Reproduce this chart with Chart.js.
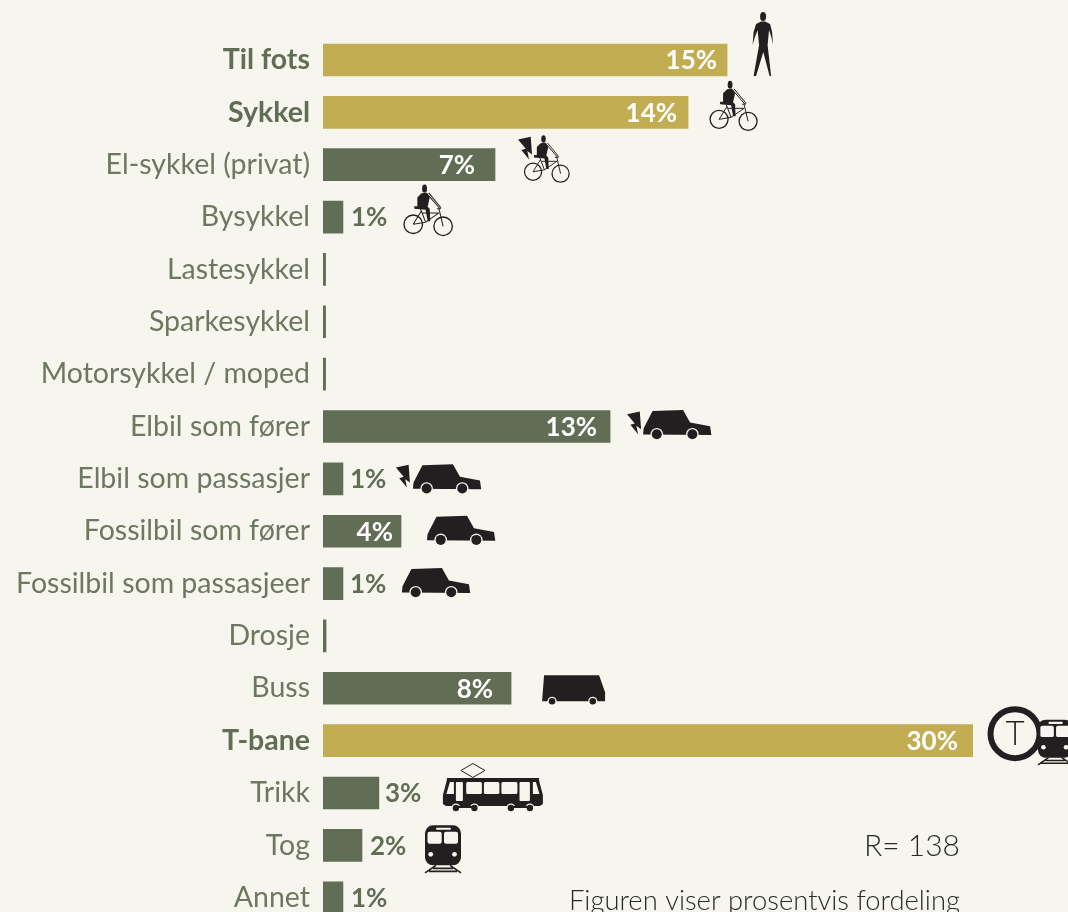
<!DOCTYPE html>
<html>
<head>
<meta charset="utf-8">
<style>
  html, body { margin: 0; padding: 0; background: #F6F6EE; height: 912px; overflow: hidden; }
  canvas { display: block; }
</style>
<script src="https://cdn.jsdelivr.net/npm/chart.js@4"></script>
</head>
<body>
<canvas id="myChart" width="1068" height="954"></canvas>
<script>
const categories = ["Til fots", "Sykkel", "El-sykkel (privat)", "Bysykkel", "Lastesykkel", "Sparkesykkel",
  "Motorsykkel / moped", "Elbil som fører", "Elbil som passasjer", "Fossilbil som fører",
  "Fossilbil som passasjeer", "Drosje", "Buss", "T-bane", "Trikk", "Tog", "Annet"];

// the printed percentages, no label on the empty rows
const percentages = [15, 14, 7, 1, null, null, null, 13, 1, 4, 1, null, 8, 30, 3, 2, 1];

// bar lengths as drawn in the picture, they do not follow the printed numbers exactly
const barLengths = [18.65, 16.85, 7.94, 0.92, 0.12, 0.12, 0.12, 13.25, 0.92, 3.6, 0.92, 0.14, 8.68, 30, 2.58, 1.8, 0.92];

const highlighted = ["Til fots", "Sykkel", "T-bane"];

const GOLD = "#C3AD53";
const GREEN = "#626D55";
const LABEL = "#6E7860";
const INK = "#231F20";
const BG = "#F6F6EE";

// gap between bar end and percent label, the source places each by hand
const labelGaps = [-10, -11, -20, 8, 0, 0, 0, -13, 7, -8, 7, 0, -18, -15, 6, 8, 8];

// icons: row, kind, offset from the bar end and row centre, scale
const icons = [
  ["Til fots", "person", 25, -48, 1],
  ["Sykkel", "bike", 21, -32, 1],
  ["El-sykkel (privat)", "bike", 28.5, -30, 0.95],
  ["El-sykkel (privat)", "bolt", 23, -28, 1],
  ["Bysykkel", "bike", 60, -33, 1.03],
  ["Elbil som fører", "bolt", 17, -15, 1],
  ["Elbil som fører", "car", 33, -17, 1],
  ["Elbil som passasjer", "bolt", 53, -14, 1],
  ["Elbil som passasjer", "car", 70, -15, 1],
  ["Fossilbil som fører", "car", 26, -16, 1],
  ["Fossilbil som passasjeer", "car", 59, -16, 1],
  ["Buss", "bus", 31, -13, 1],
  ["T-bane", "tsign", 42, -7, 1],
  ["T-bane", "train", 65, -21, 0.95],
  ["Trikk", "tram", 64, -30, 1],
  ["Tog", "train", 63, -20, 1]
];

function poly(ctx, pts) {
  ctx.beginPath();
  pts.forEach((p, i) => { if (i == 0) ctx.moveTo(p[0], p[1]); else ctx.lineTo(p[0], p[1]); });
  ctx.closePath();
  ctx.fill();
}

function disc(ctx, x, y, r, col) {
  ctx.fillStyle = col;
  ctx.beginPath();
  ctx.arc(x, y, r, 0, Math.PI * 2);
  ctx.fill();
}

function wheel(ctx, x, y, r) {
  disc(ctx, x, y, r + 1.3, BG);
  disc(ctx, x, y, r, INK);
}

// list holds two points per line segment
function segs(ctx, list) {
  ctx.beginPath();
  for (let i = 0; i < list.length; i += 2) {
    ctx.moveTo(list[i][0], list[i][1]);
    ctx.lineTo(list[i + 1][0], list[i + 1][1]);
  }
  ctx.stroke();
}

const drawIcon = {
  person(ctx) {
    ctx.beginPath();
    ctx.ellipse(11, 4.5, 3, 4.5, 0, 0, Math.PI * 2);
    ctx.fill();
    poly(ctx, [[9, 9.5], [13, 9.5], [18, 12], [20, 20], [21, 33], [19.5, 26], [17, 18], [15.5, 33], [19, 64],
      [17.5, 64], [11.2, 40], [4, 64], [1.5, 64], [7, 33], [5.5, 18], [2.5, 26], [0.5, 33], [1.5, 20], [4, 12]]);
  },
  bike(ctx) {
    ctx.beginPath();
    ctx.ellipse(21, 4.5, 2.4, 4, 0, 0, Math.PI * 2);
    ctx.fill();
    poly(ctx, [[18, 9], [23, 8.5], [26, 13], [24, 22], [26, 24], [26.5, 36], [24, 36], [22, 25], [11, 24], [11, 21.5], [14, 21.5], [14, 13]]);
    ctx.lineWidth = 1;
    segs(ctx, [[23, 9], [36, 24], [25, 8.5], [37, 23], [35, 24], [39, 41], [33, 24], [37, 23.5],
      [17, 24], [22, 37], [19, 28], [35, 28], [22, 37], [35, 28], [10, 39], [22, 37], [10, 39], [18, 26]]);
    ctx.lineWidth = 1.3;
    ctx.beginPath();
    ctx.arc(10, 39, 9, 0, Math.PI * 2);
    ctx.moveTo(48, 41);
    ctx.arc(39, 41, 9, 0, Math.PI * 2);
    ctx.stroke();
  },
  bolt(ctx) {
    poly(ctx, [[0, 2.7], [12.7, 0], [14, 17.7], [9.3, 14.3], [11, 22.7], [3.3, 13.3], [7.7, 12]]);
  },
  car(ctx) {
    poly(ctx, [[0, 25], [0.5, 19], [3, 14], [9.5, 1.5], [40, 0.5], [47, 13], [67, 16.7], [68.3, 25.5]]);
    wheel(ctx, 13.7, 24.7, 5);
    wheel(ctx, 49.3, 24.7, 5);
  },
  bus(ctx) {
    poly(ctx, [[2, 0], [57, 0], [63, 17], [63, 26], [0, 26]]);
    wheel(ctx, 10, 26, 3.3);
    wheel(ctx, 50.7, 26, 3.3);
  },
  tsign(ctx) {
    ctx.lineWidth = 6;
    ctx.fillStyle = BG;
    ctx.beginPath();
    ctx.arc(0, 0, 24.5, 0, Math.PI * 2);
    ctx.fill();
    ctx.stroke();
    ctx.fillStyle = INK;
    ctx.font = "300 33px Lato";
    ctx.textAlign = "center";
    ctx.textBaseline = "middle";
    ctx.fillText("T", 0, 1);
  },
  train(ctx) {
    ctx.beginPath();
    ctx.roundRect(0, 0, 36, 40, 8);
    ctx.fill();
    ctx.fillStyle = BG;
    ctx.beginPath();
    ctx.roundRect(2.5, 6.3, 14.2, 12, 2);
    ctx.roundRect(19, 6.3, 14, 12, 2);
    ctx.roundRect(11, 2.3, 15, 2.2, 1);
    ctx.fill();
    disc(ctx, 5.7, 29, 2.4, BG);
    disc(ctx, 29.5, 29, 2.4, BG);
    ctx.lineWidth = 1.6;
    segs(ctx, [[11, 40], [0, 47.5], [25, 40], [36, 47.5], [8, 43], [28, 43], [4, 46], [32, 46]]);
  },
  tram(ctx) {
    ctx.lineWidth = 1;
    ctx.beginPath();
    ctx.moveTo(30, 0.5);
    ctx.lineTo(42, 7.5);
    ctx.lineTo(30, 14.5);
    ctx.lineTo(18, 7.5);
    ctx.closePath();
    ctx.stroke();
    ctx.fillRect(4, 15, 92, 3);
    poly(ctx, [[4, 17], [96, 17], [100, 32], [100, 41], [97, 43], [3, 43], [0, 41], [0, 32]]);
    wheel(ctx, 13, 45, 3.2);
    wheel(ctx, 31.5, 45, 3.2);
    wheel(ctx, 68, 45, 3.2);
    wheel(ctx, 87, 45, 3.2);
    ctx.fillStyle = INK;
    ctx.fillRect(13, 43, 18, 2);
    ctx.fillRect(68, 43, 19, 2);
    ctx.fillStyle = BG;
    poly(ctx, [[7, 19], [11, 19], [11, 31], [3.5, 31]]);
    poly(ctx, [[90, 19], [93, 19], [96.5, 31], [90, 31]]);
    ctx.beginPath();
    ctx.roundRect(13, 19, 7, 19, 1);
    ctx.roundRect(23.3, 19, 15.7, 12, 1.5);
    ctx.roundRect(41, 19, 15.5, 12, 1.5);
    ctx.roundRect(58.5, 19, 16, 12, 1.5);
    ctx.roundRect(76.6, 19, 10.4, 19, 1);
    ctx.fill();
  }
};

const barExtras = {
  id: "barExtras",
  afterDatasetsDraw(chart) {
    const ctx = chart.ctx;
    const xs = chart.scales.x, ys = chart.scales.y;
    ctx.save();

    // percent labels, inside the bar when the gap is negative
    ctx.font = "700 26px Lato";
    ctx.textBaseline = "middle";
    percentages.forEach((p, i) => {
      if (p === null) return;
      const inside = labelGaps[i] < 0;
      ctx.fillStyle = inside ? "#FFFFFF" : GREEN;
      ctx.textAlign = inside ? "right" : "left";
      ctx.fillText(p + "%", xs.getPixelForValue(barLengths[i]) + labelGaps[i], ys.getPixelForValue(i) + 1);
    });

    icons.forEach(ic => {
      const i = categories.indexOf(ic[0]);
      ctx.save();
      ctx.translate(xs.getPixelForValue(barLengths[i]) + ic[2], ys.getPixelForValue(i) + ic[3]);
      ctx.scale(ic[4], ic[4]);
      ctx.fillStyle = INK;
      ctx.strokeStyle = INK;
      drawIcon[ic[1]](ctx);
      ctx.restore();
    });

    // note in the lower right corner
    ctx.fillStyle = "#2A2A2A";
    ctx.textAlign = "right";
    ctx.textBaseline = "alphabetic";
    ctx.font = "300 30px Lato";
    ctx.fillText("R= 138", 960, 856);
    ctx.font = "300 27.4px Lato";
    ctx.fillText("Figuren viser prosentvis fordeling", 960, 910);
    ctx.restore();
  }
};

new Chart(document.getElementById("myChart").getContext("2d"), {
  type: "bar",
  plugins: [barExtras],
  data: {
    labels: categories,
    datasets: [{
      data: barLengths,
      backgroundColor: categories.map(c => highlighted.includes(c) ? GOLD : GREEN),
      barThickness: 32,
      borderWidth: 0
    }]
  },
  options: {
    indexAxis: "y",
    responsive: false,
    animation: false,
    layout: { padding: { top: 33.8, bottom: 5.4, right: 95, left: 0 } },
    plugins: { legend: { display: false }, tooltip: { enabled: false } },
    scales: {
      x: { display: false, min: 0, max: 30 },
      y: {
        afterFit: (scale) => { scale.width = 323; },
        border: { display: false },
        grid: { display: false, drawTicks: false },
        ticks: {
          autoSkip: false,
          minRotation: 0,
          maxRotation: 0,
          padding: 13,
          color: (c) => highlighted.includes(categories[c.index]) ? GREEN : LABEL,
          font: (c) => highlighted.includes(categories[c.index])
            ? { family: "Lato", size: 28.5, weight: "700" }
            : { family: "Lato", size: 28.5, weight: "400" }
        }
      }
    }
  }
});
</script>
</body>
</html>
